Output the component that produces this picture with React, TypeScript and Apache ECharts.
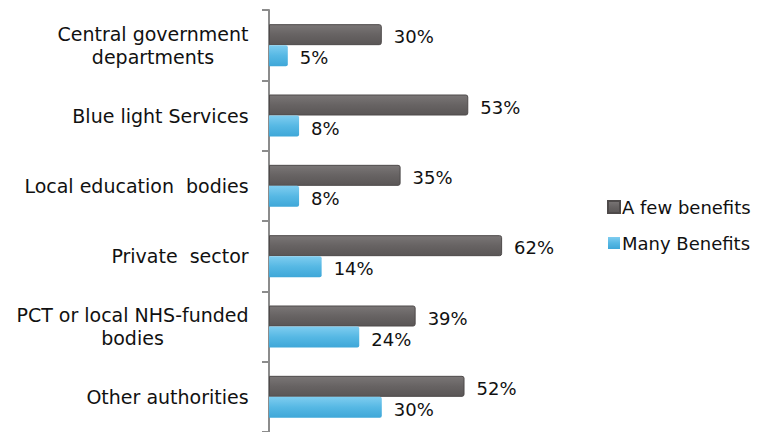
import React, { useEffect, useRef } from "react";
import * as echarts from "echarts";

const categories = [
  "Central government\ndepartments",
  "Blue light Services",
  "Local education  bodies",
  "Private  sector",
  "PCT or local NHS-funded\nbodies",
  "Other authorities",
];
const fewBenefits = [30, 53, 35, 62, 39, 52];
const manyBenefits = [5, 8, 8, 14, 24, 30];
const seriesNames = ["A few benefits", "Many Benefits"];

const FONT = "DejaVu Sans";
const FS = 19;

function measure(text: string): number {
  const c = document.createElement("canvas").getContext("2d")!;
  c.font = `${FS}px "${FONT}"`;
  return Math.ceil(c.measureText(text).width);
}

export default function App() {
  const ref = useRef<HTMLDivElement>(null);
  useEffect(() => {
    const chart = echarts.init(ref.current!, null, { renderer: "svg" });
    const rich: Record<string, any> = {};
    categories.forEach((cat, i) => {
      const lines = cat.split("\n");
      const w = Math.max(...lines.map(measure));
      rich["c" + i] = { width: w, align: "center", fontSize: FS, fontFamily: FONT, color: "#111", lineHeight: 23 };
    });
    const labelStyle = {
      show: true,
      position: "right" as const,
      distance: 12,
      offset: [0, 2],
      formatter: "{c}%",
      color: "#111",
      fontSize: 18,
      fontFamily: FONT,
    };
    chart.setOption({
      animation: false,
      backgroundColor: "#fff",
      grid: { left: 269, top: 10, height: 427, width: 376 },
      legend: {
        orient: "vertical",
        left: 602,
        top: 193,
        itemWidth: 12,
        itemHeight: 12,
        itemGap: 18,
        icon: "rect",
        textStyle: { fontSize: 18, fontFamily: FONT, color: "#111", padding: [0, 0, 0, -3] },
        data: seriesNames,
      },
      xAxis: { type: "value", min: 0, max: 100, show: false },
      yAxis: {
        type: "category",
        inverse: true,
        data: categories,
        axisLine: { show: true, lineStyle: { color: "#8c8c8c", width: 2 } },
        axisTick: { show: true, length: 7, lineStyle: { color: "#8c8c8c", width: 2 } },
        axisLabel: {
          margin: 20,
          align: "right",
          formatter: (v: string, i: number) =>
            v
              .split("\n")
              .map((l) => `{c${i}|${l}}`)
              .join("\n"),
          rich,
        },
      },
      series: [
        {
          name: seriesNames[0],
          type: "bar",
          data: fewBenefits,
          barWidth: 21,
          barGap: "0%",
          itemStyle: {
            color: new echarts.graphic.LinearGradient(0, 0, 0, 1, [
              { offset: 0, color: "#7a7676" },
              { offset: 0.5, color: "#676363" },
              { offset: 1, color: "#5a5656" },
            ]),
            borderColor: "#4e4a4a",
            borderWidth: 1,
            borderRadius: [0, 2, 2, 0],
          },
          label: labelStyle,
        },
        {
          name: seriesNames[1],
          type: "bar",
          data: manyBenefits,
          barWidth: 21,
          barGap: "0%",
          itemStyle: {
            color: new echarts.graphic.LinearGradient(0, 0, 0, 1, [
              { offset: 0, color: "#7fcdf0" },
              { offset: 0.5, color: "#56b8e4" },
              { offset: 1, color: "#3ea7d8" },
            ]),
            borderRadius: [0, 2, 2, 0],
          },
          label: labelStyle,
        },
      ],
    });
    return () => chart.dispose();
  }, []);
  return <div ref={ref} style={{ width: 757, height: 432, position: "absolute", left: 0, top: 0 }} />;
}
